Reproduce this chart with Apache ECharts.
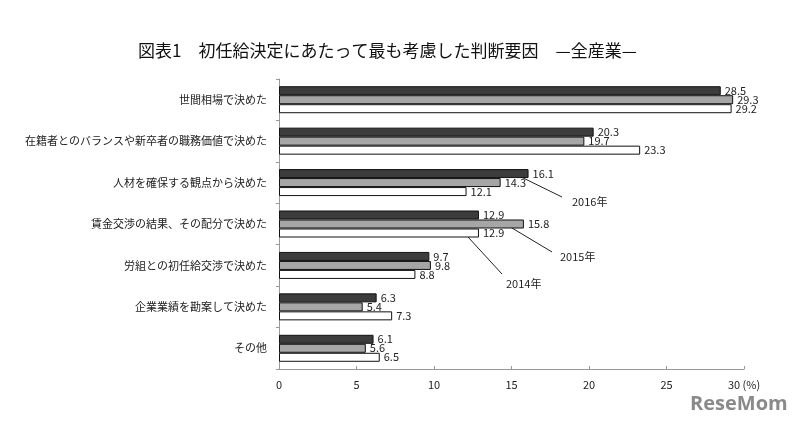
<!DOCTYPE html>
<html><head><meta charset="utf-8">
<script src="https://cdn.jsdelivr.net/npm/echarts@6/dist/echarts.min.js"></script>
<style>html,body{margin:0;padding:0;background:#fff}#c{width:800px;height:427px}</style>
</head><body><div id="c"></div>
<script>
const categories = ['世間相場で決めた','在籍者とのバランスや新卒者の職務価値で決めた','人材を確保する観点から決めた','賃金交渉の結果、その配分で決めた','労組との初任給交渉で決めた','企業業績を勘案して決めた','その他'];
const seriesNames = ['2016年','2015年','2014年'];
const v2016 = [28.5, 20.3, 16.1, 12.9, 9.7, 6.3, 6.1];
const v2015 = [29.3, 19.7, 14.3, 15.8, 9.8, 5.4, 5.6];
const v2014 = [29.2, 23.3, 12.1, 12.9, 8.8, 7.3, 6.5];
const xTicks = [0, 5, 10, 15, 20, 25, 30];

const font = '"Noto Sans CJK JP", sans-serif';
const colors = ['#3c3c3c', '#a6a6a6', '#ffffff'];
const values = [v2016, v2015, v2014];

const chart = echarts.init(document.getElementById('c'));
const series = values.map((vals, i) => ({
  name: seriesNames[i], type: 'bar', data: vals, barWidth: 9, barGap: '0%',
  itemStyle: { color: colors[i], borderColor: '#111', borderWidth: 1 },
  label: { show: true, position: 'right', distance: 4, color: '#222', fontSize: 11, fontFamily: font,
    formatter: p => p.value.toFixed(1) }
}));
chart.setOption({
  animation: false,
  title: { text: '図表1　初任給決定にあたって最も考慮した判断要因　—全産業—', left: 133, top: 37,
    textStyle: { fontSize: 17, fontWeight: 'normal', color: '#111', fontFamily: font } },
  grid: { left: 279, right: 56, top: 79, bottom: 58 },
  xAxis: { type: 'value', min: 0, max: 30, interval: 5,
    axisLine: { show: true, lineStyle: { color: '#999' } },
    axisTick: { show: true, inside: true, length: 3, lineStyle: { color: '#999' } },
    splitLine: { show: false },
    axisLabel: { color: '#222', fontSize: 11, fontFamily: font, margin: 10,
      formatter: v => xTicks.includes(v) ? (v === 30 ? '30 (%)' : String(v)) : '' } },
  yAxis: { type: 'category', data: categories, inverse: true,
    axisLine: { show: true, lineStyle: { color: '#999' } },
    axisTick: { show: true, length: 3, lineStyle: { color: '#999' } },
    axisLabel: { color: '#222', fontSize: 11, fontFamily: font, margin: 12 } },
  series: series,
  graphic: [
    { type: 'line', shape: { x1: 515, y1: 174, x2: 562, y2: 197 }, style: { stroke: '#222', lineWidth: 1 } },
    { type: 'text', left: 572, top: 196, style: { text: seriesNames[0], fontSize: 11, fontFamily: font, fill: '#222' } },
    { type: 'line', shape: { x1: 507, y1: 225, x2: 552, y2: 252 }, style: { stroke: '#222', lineWidth: 1 } },
    { type: 'text', left: 560, top: 251, style: { text: seriesNames[1], fontSize: 11, fontFamily: font, fill: '#222' } },
    { type: 'line', shape: { x1: 468, y1: 237, x2: 502, y2: 274 }, style: { stroke: '#222', lineWidth: 1 } },
    { type: 'text', left: 506, top: 278, style: { text: seriesNames[2], fontSize: 11, fontFamily: font, fill: '#222' } },
    { type: 'text', left: 690, top: 394, style: { text: 'ReseMom', fontSize: 20, fontWeight: 'bold', fontFamily: '"Open Sans", sans-serif', fill: '#8a8a8a' } }
  ]
});
</script></body></html>
